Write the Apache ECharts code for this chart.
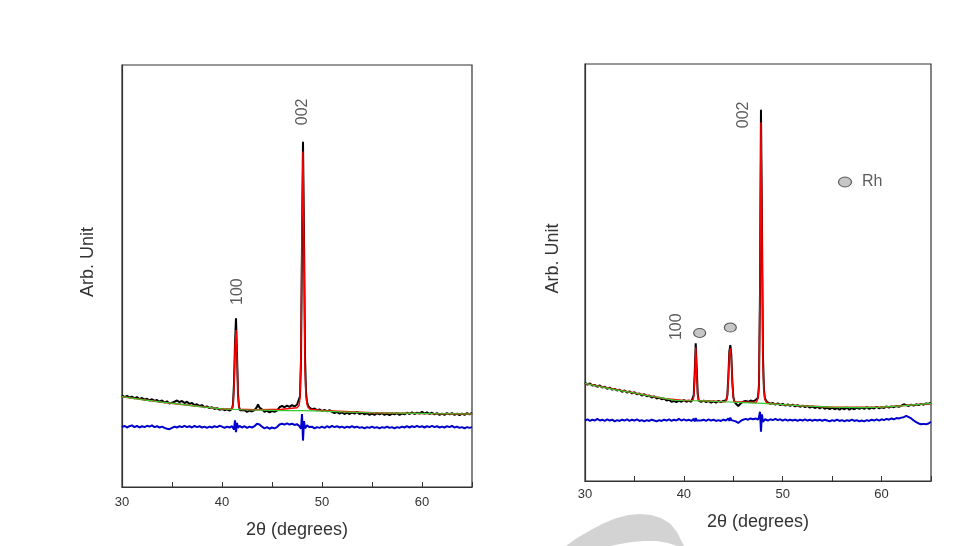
<!DOCTYPE html>
<html><head><meta charset="utf-8">
<script src="https://cdn.jsdelivr.net/npm/echarts@6/dist/echarts.min.js"></script>
<style>html,body{margin:0;padding:0;background:#fff}#c{width:971px;height:546px}</style>
</head><body><div id="c"></div>
<script>
// ---------- Data (x = 2θ in degrees, y = arbitrary intensity 0..100) ----------
const xTicks = [30, 40, 50, 60];

const leftObs = [[30.00,21.7],[30.25,21.3],[30.50,21.6],[30.75,21.2],[31.00,21.4],[31.25,21.0],[31.50,21.3],[31.75,20.8],[32.00,21.1],[32.25,20.7],[32.50,20.9],[32.75,20.5],[33.00,20.8],[33.25,20.4],[33.50,20.6],[33.75,20.2],[34.00,20.5],[34.25,20.0],[34.50,20.3],[34.75,19.8],[35.00,20.0],[35.25,20.2],[35.50,20.5],[35.75,20.1],[36.00,20.4],[36.25,19.9],[36.50,20.2],[36.75,19.7],[37.00,19.9],[37.25,19.4],[37.50,19.6],[37.75,19.2],[38.00,19.4],[38.25,18.9],[38.50,19.1],[38.75,18.7],[39.00,18.9],[39.25,18.5],[39.50,18.7],[39.75,18.3],[40.00,18.5],[40.25,18.2],[40.50,18.4],[40.75,18.1],[41.00,18.5],[41.10,19.6],[41.20,24.5],[41.30,34.0],[41.40,40.0],[41.50,31.5],[41.60,22.0],[41.70,19.0],[41.80,18.2],[42.00,17.9],[42.25,18.2],[42.50,17.8],[42.75,18.1],[43.00,17.9],[43.25,18.2],[43.50,19.0],[43.60,19.6],[43.75,18.8],[44.00,18.4],[44.25,17.8],[44.50,18.1],[44.75,17.7],[45.00,18.0],[45.25,17.8],[45.50,18.1],[45.75,18.9],[46.00,19.2],[46.25,18.9],[46.50,19.3],[46.75,19.0],[47.00,19.4],[47.25,19.1],[47.50,19.5],[47.70,19.8],[47.80,21.5],[47.90,30.0],[48.00,58.0],[48.10,81.8],[48.20,60.0],[48.30,31.0],[48.40,22.5],[48.50,20.2],[48.60,19.3],[48.75,18.8],[49.00,18.4],[49.25,18.6],[49.50,18.2],[49.75,18.4],[50.00,18.0],[50.25,18.3],[50.50,17.9],[50.75,18.2],[51.00,17.8],[51.25,17.5],[51.50,17.8],[51.75,17.4],[52.00,17.7],[52.25,17.3],[52.50,17.6],[52.75,17.3],[53.00,17.7],[53.25,17.4],[53.50,17.8],[53.75,17.3],[54.00,17.6],[54.25,17.2],[54.50,17.5],[54.75,17.1],[55.00,17.4],[55.25,17.1],[55.50,17.5],[55.75,17.2],[56.00,17.5],[56.25,17.1],[56.50,17.4],[56.75,17.0],[57.00,17.4],[57.25,17.2],[57.50,17.5],[57.75,17.1],[58.00,17.4],[58.25,17.2],[58.50,17.6],[58.75,17.3],[59.00,17.7],[59.25,17.3],[59.50,17.6],[59.75,17.4],[60.00,17.8],[60.25,17.4],[60.50,17.7],[60.75,17.3],[61.00,17.6],[61.25,17.2],[61.50,17.5],[61.75,17.1],[62.00,17.4],[62.25,17.1],[62.50,17.5],[62.75,17.2],[63.00,17.5],[63.25,17.1],[63.50,17.4],[63.75,17.0],[64.00,17.4],[64.25,17.1],[64.50,17.5],[64.75,17.2],[65.00,17.6]];

const leftCalc = [[30,21.4],[34,20.1],[38,19.0],[40,18.5],[41.0,18.5],[41.1,19.3],[41.2,23.5],[41.3,33.0],[41.4,37.2],[41.5,31.0],[41.6,21.5],[41.7,19.0],[41.8,18.4],[43.4,18.3],[43.6,18.6],[43.8,18.3],[46,18.4],[47.5,18.8],[47.7,19.3],[47.8,21.0],[47.9,32.0],[48.0,62.0],[48.1,79.5],[48.2,57.0],[48.3,28.0],[48.4,21.5],[48.5,19.6],[48.6,18.9],[48.8,18.4],[50,18.1],[55,17.6],[60,17.4],[65,17.3]];

const leftBg = [[30,21.4],[32,20.7],[34,20.1],[36,19.6],[38,19.0],[40,18.5],[42,18.3],[44,18.2],[46,18.1],[48,18.1],[50,18.0],[52,17.8],[55,17.6],[58,17.5],[61,17.4],[65,17.3]];

const leftDiff = [[30.00,14.2],[30.25,14.5],[30.50,14.1],[30.75,14.4],[31.00,14.6],[31.25,14.2],[31.50,14.5],[31.75,14.1],[32.00,14.4],[32.25,14.2],[32.50,14.5],[32.75,14.3],[33.00,14.6],[33.25,14.2],[33.50,14.4],[33.75,14.1],[34.00,14.3],[34.25,14.0],[34.50,13.8],[34.75,13.7],[35.00,14.0],[35.25,14.3],[35.50,14.1],[35.75,14.4],[36.00,14.2],[36.25,14.5],[36.50,14.2],[36.75,14.4],[37.00,14.1],[37.25,14.5],[37.50,14.2],[37.75,14.4],[38.00,14.1],[38.25,14.3],[38.50,14.0],[38.75,14.3],[39.00,14.1],[39.25,14.4],[39.50,14.2],[39.75,14.5],[40.00,14.3],[40.25,14.0],[40.50,14.3],[40.75,14.1],[41.00,14.4],[41.20,13.6],[41.30,15.8],[41.40,13.0],[41.50,15.2],[41.60,14.0],[41.75,14.5],[42.00,14.1],[42.25,14.4],[42.50,14.0],[42.75,14.3],[43.00,14.1],[43.25,14.4],[43.50,15.0],[43.60,15.4],[43.75,14.8],[44.00,14.3],[44.25,13.9],[44.50,14.2],[44.75,13.8],[45.00,14.1],[45.25,13.9],[45.50,14.2],[45.75,14.8],[46.00,15.0],[46.25,14.8],[46.50,15.1],[46.75,14.8],[47.00,15.0],[47.25,14.7],[47.50,14.9],[47.75,14.4],[47.90,13.8],[48.00,17.3],[48.10,11.0],[48.20,15.6],[48.30,13.9],[48.50,14.6],[48.75,14.2],[49.00,14.3],[49.25,13.9],[49.50,14.2],[49.75,14.0],[50.00,14.3],[50.25,14.0],[50.50,14.4],[50.75,14.1],[51.00,14.5],[51.25,14.2],[51.50,14.4],[51.75,14.1],[52.00,14.3],[52.25,14.0],[52.50,14.3],[52.75,14.1],[53.00,14.4],[53.25,14.1],[53.50,14.3],[53.75,14.0],[54.00,14.2],[54.25,13.9],[54.50,14.2],[54.75,14.0],[55.00,14.3],[55.25,14.0],[55.50,14.2],[55.75,13.9],[56.00,14.2],[56.25,14.0],[56.50,14.3],[56.75,14.0],[57.00,14.2],[57.25,13.9],[57.50,14.2],[57.75,14.0],[58.00,14.3],[58.25,14.1],[58.50,14.4],[58.75,14.1],[59.00,14.4],[59.25,14.2],[59.50,14.5],[59.75,14.2],[60.00,14.4],[60.25,14.1],[60.50,14.4],[60.75,14.2],[61.00,14.5],[61.25,14.2],[61.50,14.4],[61.75,14.1],[62.00,14.3],[62.25,14.1],[62.50,14.4],[62.75,14.2],[63.00,14.5],[63.25,14.1],[63.50,14.3],[63.75,14.0],[64.00,14.2],[64.25,13.9],[64.50,14.2],[64.75,14.0],[65.00,14.2]];

const rightObs = [[30.00,23.6],[30.25,23.1],[30.50,23.4],[30.75,22.9],[31.00,23.0],[31.25,22.6],[31.50,22.9],[31.75,22.4],[32.00,22.6],[32.25,22.1],[32.50,22.4],[32.75,21.9],[33.00,22.1],[33.25,21.7],[33.50,21.9],[33.75,21.4],[34.00,21.7],[34.25,21.2],[34.50,21.5],[34.75,21.0],[35.00,21.3],[35.25,20.8],[35.50,21.0],[35.75,20.5],[36.00,20.8],[36.25,20.3],[36.50,20.5],[36.75,20.0],[37.00,20.3],[37.25,19.8],[37.50,20.0],[37.75,19.6],[38.00,19.8],[38.25,19.3],[38.50,19.5],[38.75,19.0],[39.00,19.2],[39.25,18.9],[39.50,19.3],[39.75,19.0],[40.00,19.4],[40.25,19.0],[40.50,19.3],[40.75,19.0],[40.90,19.4],[41.00,20.6],[41.10,26.0],[41.20,33.0],[41.30,27.0],[41.40,21.0],[41.50,19.3],[41.75,19.0],[42.00,19.3],[42.25,18.9],[42.50,19.2],[42.75,18.8],[43.00,19.1],[43.25,18.8],[43.50,19.2],[43.75,18.9],[44.00,19.2],[44.20,19.1],[44.30,19.4],[44.40,20.6],[44.50,25.0],[44.60,31.0],[44.70,32.6],[44.80,30.2],[44.90,24.0],[45.00,20.3],[45.10,19.1],[45.25,18.6],[45.50,18.0],[45.75,18.6],[46.00,19.0],[46.25,19.2],[46.50,19.0],[46.75,19.3],[47.00,19.1],[47.25,19.4],[47.40,19.3],[47.50,20.0],[47.60,23.0],[47.70,45.0],[47.80,89.0],[47.90,62.0],[48.00,30.0],[48.10,22.0],[48.20,19.8],[48.40,19.0],[48.60,18.8],[48.75,18.5],[49.00,18.7],[49.25,18.3],[49.50,18.6],[49.75,18.2],[50.00,18.5],[50.25,18.1],[50.50,18.4],[50.75,18.0],[51.00,18.3],[51.25,17.9],[51.50,18.2],[51.75,17.8],[52.00,18.1],[52.25,17.7],[52.50,18.0],[52.75,17.6],[53.00,17.9],[53.25,17.5],[53.50,17.8],[53.75,17.4],[54.00,17.8],[54.25,17.3],[54.50,17.6],[54.75,17.2],[55.00,17.6],[55.25,17.2],[55.50,17.5],[55.75,17.1],[56.00,17.5],[56.25,17.2],[56.50,17.6],[56.75,17.1],[57.00,17.5],[57.25,17.2],[57.50,17.6],[57.75,17.3],[58.00,17.6],[58.25,17.3],[58.50,17.7],[58.75,17.3],[59.00,17.6],[59.25,17.4],[59.50,17.8],[59.75,17.4],[60.00,17.7],[60.25,17.5],[60.50,17.9],[60.75,17.6],[61.00,17.9],[61.25,17.7],[61.50,18.0],[61.75,17.8],[62.00,18.1],[62.25,18.4],[62.50,18.2],[62.75,18.0],[63.00,18.3],[63.25,18.1],[63.50,18.4],[63.75,18.2],[64.00,18.5],[64.25,18.3],[64.50,18.6],[64.75,18.5],[65.00,18.8]];

const rightCalc = [[30,23.4],[35,21.1],[38,19.8],[40,19.3],[40.9,19.3],[41.0,20.2],[41.1,25.0],[41.2,32.0],[41.3,26.0],[41.4,20.5],[41.5,19.3],[44.2,19.0],[44.3,19.3],[44.4,20.3],[44.5,24.5],[44.6,30.5],[44.7,31.8],[44.8,29.5],[44.9,23.5],[45.0,20.0],[45.1,19.0],[47.3,18.8],[47.4,19.1],[47.5,19.8],[47.6,22.5],[47.7,47.0],[47.8,86.0],[47.9,60.0],[48.0,28.0],[48.1,21.5],[48.2,19.5],[48.4,18.7],[50,18.3],[55,17.7],[60,17.7],[65,18.6]];

const rightBg = [[30,23.4],[31,22.9],[32,22.4],[33,21.9],[34,21.5],[35,21.1],[36,20.6],[37,20.2],[38,19.8],[39,19.4],[40,19.3],[42,19.2],[44,19.0],[46,18.8],[48,18.6],[50,18.3],[52,18.0],[55,17.7],[58,17.6],[60,17.7],[62,18.0],[65,18.6]];

const rightDiff = [[30.00,14.5],[30.25,14.8],[30.50,14.4],[30.75,14.7],[31.00,14.5],[31.25,14.9],[31.50,14.5],[31.75,14.7],[32.00,14.4],[32.25,14.8],[32.50,14.5],[32.75,14.7],[33.00,14.3],[33.25,14.6],[33.50,14.4],[33.75,14.7],[34.00,14.5],[34.25,14.8],[34.50,14.4],[34.75,14.7],[35.00,14.5],[35.25,14.8],[35.50,14.4],[35.75,14.6],[36.00,14.3],[36.25,14.6],[36.50,14.4],[36.75,14.7],[37.00,14.5],[37.25,14.3],[37.50,14.6],[37.75,14.4],[38.00,14.7],[38.25,14.5],[38.50,14.8],[38.75,14.4],[39.00,14.7],[39.25,14.5],[39.50,14.9],[39.75,14.5],[40.00,14.8],[40.25,14.5],[40.50,14.7],[40.75,14.4],[41.00,14.9],[41.10,14.3],[41.20,15.1],[41.30,14.5],[41.50,14.8],[41.75,14.5],[42.00,14.7],[42.25,14.4],[42.50,14.8],[42.75,14.5],[43.00,14.7],[43.25,14.4],[43.50,14.6],[43.75,14.4],[44.00,14.7],[44.25,14.5],[44.50,15.0],[44.60,14.4],[44.70,15.2],[44.80,14.6],[45.00,14.9],[45.25,14.3],[45.50,13.9],[45.75,14.4],[46.00,14.7],[46.25,14.9],[46.50,14.7],[46.75,15.0],[47.00,14.8],[47.25,15.0],[47.50,14.7],[47.60,15.3],[47.70,16.6],[47.80,11.8],[47.90,16.0],[48.00,14.2],[48.20,14.8],[48.50,14.5],[48.75,14.8],[49.00,14.6],[49.25,14.9],[49.50,14.6],[49.75,14.8],[50.00,14.5],[50.25,14.8],[50.50,14.5],[50.75,14.7],[51.00,14.5],[51.25,14.7],[51.50,14.4],[51.75,14.7],[52.00,14.5],[52.25,14.8],[52.50,14.5],[52.75,14.7],[53.00,14.4],[53.25,14.7],[53.50,14.5],[53.75,14.7],[54.00,14.4],[54.25,14.7],[54.50,14.5],[54.75,14.3],[55.00,14.6],[55.25,14.4],[55.50,14.7],[55.75,14.4],[56.00,14.6],[56.25,14.3],[56.50,14.6],[56.75,14.4],[57.00,14.7],[57.25,14.4],[57.50,14.6],[57.75,14.3],[58.00,14.5],[58.25,14.3],[58.50,14.6],[58.75,14.4],[59.00,14.7],[59.25,14.5],[59.50,14.8],[59.75,14.5],[60.00,14.8],[60.25,14.6],[60.50,14.9],[60.75,14.7],[61.00,15.0],[61.25,14.8],[61.50,15.1],[61.75,15.0],[62.00,15.2],[62.25,15.3],[62.50,15.6],[62.75,15.3],[63.00,15.0],[63.25,14.5],[63.50,14.1],[63.75,13.8],[64.00,13.6],[64.25,13.7],[64.50,13.6],[64.75,13.8],[65.00,14.2]];

// peak index labels: [x, y, text]
const leftPeakLabels = [[41.6, 46.3, '100'], [48.1, 88.9, '002']];
const rightPeakLabels = [[39.3, 37.0, '100'], [46.0, 87.8, '002']];
// Rh markers: [x, y]
const rhMarkers = [[41.6, 35.5], [44.7, 36.8]];
const rhLegend = [[56.3, 71.7, 'Rh']];

// ---------- Chart ----------
const FONT = '"Liberation Sans", Arial, sans-serif';
const TXT = '#333';

function xAxisCfg(gridIndex, gap, margin) {
  return {
    gridIndex, type: 'value', min: 30, max: 65, interval: 5,
    name: '2θ (degrees)', nameLocation: 'middle', nameGap: gap,
    nameTextStyle: { fontSize: 18, color: TXT, fontFamily: FONT },
    axisLine: { show: true, lineStyle: { color: '#333', width: 1.2 } },
    axisTick: { show: true, inside: true, length: 5, lineStyle: { color: '#333' } },
    axisLabel: { fontSize: 13, color: TXT, fontFamily: FONT, margin,
      formatter: v => xTicks.includes(v) ? String(v) : '' },
    splitLine: { show: false }
  };
}
function yAxisCfg(gridIndex, gap) {
  return {
    gridIndex, type: 'value', min: 0, max: 100,
    name: 'Arb. Unit', nameLocation: 'middle', nameGap: gap,
    nameTextStyle: { fontSize: 18, color: TXT, fontFamily: FONT, padding: [0, 0, 0, 28] },
    axisLine: { show: true, lineStyle: { color: '#333', width: 1.2 } },
    axisTick: { show: false }, axisLabel: { show: false }, splitLine: { show: false }
  };
}
function line(idx, data, color, width, z) {
  return { type: 'line', xAxisIndex: idx, yAxisIndex: idx, data, showSymbol: false,
    symbol: 'none', lineStyle: { color, width }, z, animation: false };
}
function labels(idx, arr) {
  return { type: 'scatter', xAxisIndex: idx, yAxisIndex: idx, symbolSize: 1,
    itemStyle: { color: 'rgba(0,0,0,0)' }, z: 10,
    data: arr.map(d => ({ value: [d[0], d[1]], name: d[2] })),
    label: { show: true, position: 'inside', rotate: 90, formatter: p => p.name,
      fontSize: 16, color: TXT, fontFamily: FONT } };
}

const chart = echarts.init(document.getElementById('c'), null, { renderer: 'canvas' });
chart.setOption({
  backgroundColor: '#fff',
  animation: false,
  grid: [
    { left: 122, top: 65, width: 350, height: 422, show: true, borderColor: '#333', borderWidth: 1.2, backgroundColor: 'transparent' },
    { left: 585, top: 64, width: 346, height: 417, show: true, borderColor: '#333', borderWidth: 1.2, backgroundColor: 'transparent' }
  ],
  xAxis: [xAxisCfg(0, 34, 9), xAxisCfg(1, 32, 7)],
  yAxis: [yAxisCfg(0, 25), yAxisCfg(1, 23)],
  graphic: [{
    type: 'polygon', z: -1, silent: true,
    shape: { points: [[566,546],[577,538],[589,531],[602,524],[615,518.5],[628,515],[640,514],[651,515],[661,518],[670,523.5],[677,532],[684,546],[677,546],[668,543],[656,541],[644,541],[632,542],[620,544],[610,546]] },
    style: { fill: '#d3d3d3' }
  }],
  series: [
    line(0, leftObs, '#000', 2, 2),
    line(0, leftCalc, '#ff0000', 1.5, 3),
    line(0, leftBg, '#33cc33', 1.2, 4),
    line(0, leftDiff, '#0000cc', 2, 2),
    labels(0, leftPeakLabels),
    line(1, rightObs, '#000', 2, 2),
    line(1, rightCalc, '#ff0000', 1.5, 3),
    line(1, rightBg, '#33cc33', 1.2, 4),
    line(1, rightDiff, '#0000cc', 2, 2),
    labels(1, rightPeakLabels),
    { type: 'scatter', xAxisIndex: 1, yAxisIndex: 1, symbol: 'circle', symbolSize: [12, 9],
      itemStyle: { color: '#b8b8b8', borderColor: '#333', borderWidth: 1 }, z: 10, data: rhMarkers },
    { type: 'scatter', xAxisIndex: 1, yAxisIndex: 1, symbol: 'circle', symbolSize: [13, 10],
      itemStyle: { color: '#b8b8b8', borderColor: '#333', borderWidth: 1 }, z: 10,
      data: rhLegend.map(d => ({ value: [d[0], d[1]], name: d[2] })),
      label: { show: true, position: 'right', distance: 10, formatter: p => p.name,
        fontSize: 16, color: TXT, fontFamily: FONT } }
  ]
});
</script></body></html>
